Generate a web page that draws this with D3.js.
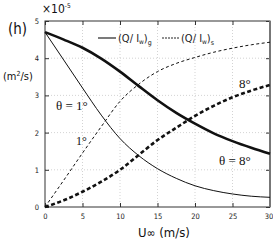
<!DOCTYPE html>
<html><head><meta charset="utf-8">
<script src="https://cdn.jsdelivr.net/npm/d3@7"></script>
<style>body{margin:0;background:#fff}svg{display:block}</style>
</head><body>
<script>
const U = [0, 2.5, 5, 7.5, 10, 12.5, 15, 17.5, 20, 22.5, 25, 27.5, 30];
const g1 = [4.7, 3.95, 3.2, 2.47, 1.84, 1.38, 1.03, 0.77, 0.57, 0.44, 0.35, 0.29, 0.26];
const g8 = [4.7, 4.5, 4.28, 3.99, 3.64, 3.25, 2.87, 2.53, 2.24, 1.98, 1.77, 1.59, 1.43];
const s1 = [0, 0.72, 1.45, 2.16, 2.84, 3.3, 3.64, 3.86, 4.02, 4.16, 4.27, 4.36, 4.43];
const s8 = [0, 0.18, 0.41, 0.68, 1.0, 1.4, 1.8, 2.13, 2.45, 2.72, 2.95, 3.13, 3.28];
const xTicks = [0, 5, 10, 15, 20, 25, 30];
const yTicks = [0, 1, 2, 3, 4, 5];

const W = 273, H = 240;
const svg = d3.select("body").append("svg").attr("width", W).attr("height", H);
const x = d3.scaleLinear().domain([0, 30]).range([45, 270]);
const y = d3.scaleLinear().domain([0, 5]).range([207, 21]);
const sans = "'Liberation Sans Narrow','DejaVu Sans Condensed',sans-serif";
const serif = "'Liberation Serif','DejaVu Serif',serif";

// grid
svg.append("g").selectAll("line").data(xTicks.slice(1, -1)).join("line")
  .attr("x1", d => x(d)).attr("x2", d => x(d)).attr("y1", y(5)).attr("y2", y(0))
  .attr("stroke", "#c8c8c8").attr("stroke-width", 0.8).attr("stroke-dasharray", "1,2");
svg.append("g").selectAll("line").data(yTicks.slice(1, -1)).join("line")
  .attr("y1", d => y(d)).attr("y2", d => y(d)).attr("x1", x(0)).attr("x2", x(30))
  .attr("stroke", "#c8c8c8").attr("stroke-width", 0.8).attr("stroke-dasharray", "1,2");

// axes (inward ticks)
const ax = (gen, tr) => svg.append("g").attr("transform", tr).call(gen)
  .call(g => g.select(".domain").remove())
  .call(g => g.selectAll("line").attr("stroke", "#333"))
  .call(g => g.selectAll("text").attr("font-family", sans).attr("font-size", 7.5).attr("fill", "#222"));
const xa = ax(d3.axisBottom(x).tickValues(xTicks).tickSize(-4).tickPadding(7).tickFormat(d3.format("d")), `translate(0,${y(0)})`);
xa.selectAll("text").filter(d => d === 30).attr("dx", -1.5);
ax(d3.axisLeft(y).tickValues(yTicks).tickSize(-4).tickPadding(6).tickFormat(d3.format("d")), `translate(${x(0)},0)`);
ax(d3.axisTop(x).tickValues(xTicks).tickSize(-4).tickFormat(""), `translate(0,${y(5)})`);
ax(d3.axisRight(y).tickValues(yTicks).tickSize(-4).tickFormat(""), `translate(${x(30)},0)`);

// frame
svg.append("rect").attr("x", x(0)).attr("y", y(5)).attr("width", x(30) - x(0)).attr("height", y(0) - y(5))
  .attr("fill", "none").attr("stroke", "#333").attr("stroke-width", 1);
svg.append("line").attr("x1", x(30)).attr("x2", x(30)).attr("y1", y(5)).attr("y2", y(0))
  .attr("stroke", "#777").attr("stroke-width", 2);

// curves
const line = vals => d3.line().curve(d3.curveMonotoneX).x((d, i) => x(U[i])).y(d => y(d))(vals);
const series = [
  {v: g1, w: 1, dash: null},
  {v: g8, w: 2.6, dash: null},
  {v: s1, w: 1, dash: "3,2.5"},
  {v: s8, w: 2.6, dash: "4,2.5"}
];
svg.append("g").selectAll("path").data(series).join("path")
  .attr("d", d => line(d.v)).attr("fill", "none").attr("stroke", "#111")
  .attr("stroke-width", d => d.w).attr("stroke-dasharray", d => d.dash);

// legend
const lg = svg.append("g").attr("font-family", sans).attr("fill", "#222");
lg.append("line").attr("x1", 98).attr("x2", 116).attr("y1", 38).attr("y2", 38).attr("stroke", "#222").attr("stroke-width", 1.2);
lg.append("line").attr("x1", 162).attr("x2", 180).attr("y1", 38).attr("y2", 38).attr("stroke", "#222").attr("stroke-width", 1).attr("stroke-dasharray", "2,1");
function legText(xp, sub) {
  const t = lg.append("text").attr("x", xp).attr("y", 42).attr("font-size", 11);
  t.append("tspan").text("(Q/ I");
  t.append("tspan").attr("font-size", 6.5).attr("dy", 2).text("w");
  t.append("tspan").attr("dy", -2).text(")");
  t.append("tspan").attr("font-size", 7).attr("dy", 3).text(sub);
}
legText(118, "g");
legText(181, "s");

// annotations
const ann = svg.append("g").attr("font-family", serif).attr("fill", "#111");
ann.append("text").attr("x", 56).attr("y", 110).attr("font-size", 13).text("θ = 1°");
ann.append("text").attr("x", 76).attr("y", 145).attr("font-size", 12).text("1°");
ann.append("text").attr("x", 239).attr("y", 88).attr("font-size", 13).text("8°");
ann.append("text").attr("x", 219).attr("y", 165).attr("font-size", 13).text("θ = 8°");

// labels
svg.append("text").attr("x", 8).attr("y", 34).attr("font-family", sans).attr("font-size", 15).attr("fill", "#111").text("(h)");
const ex = svg.append("text").attr("x", 42).attr("y", 13).attr("font-family", sans).attr("font-size", 12).attr("fill", "#111");
ex.append("tspan").text("×10");
ex.append("tspan").attr("font-size", 6.5).attr("dy", -5).text("-5");
const yl = svg.append("text").attr("x", 3).attr("y", 80).attr("font-family", sans).attr("font-size", 11).attr("fill", "#111");
yl.append("tspan").text("(m");
yl.append("tspan").attr("font-size", 7).attr("dy", -4).text("2");
yl.append("tspan").attr("dy", 4).text("/s)");
const xl = svg.append("text").attr("x", 138).attr("y", 237).attr("font-family", sans).attr("font-size", 13).attr("fill", "#111");
xl.append("tspan").text("U");
xl.append("tspan").attr("font-size", 12).text("∞");
xl.append("tspan").text(" (m/s)");
</script>
</body></html>
